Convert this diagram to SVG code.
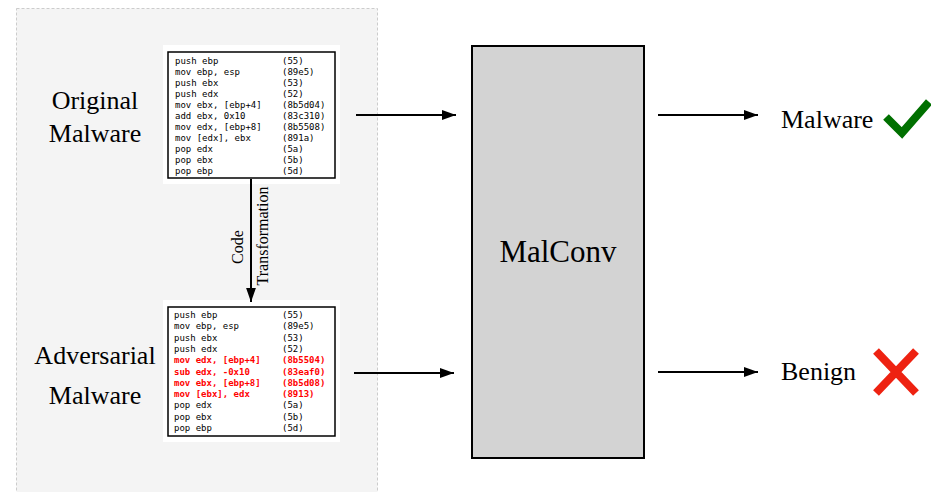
<svg xmlns="http://www.w3.org/2000/svg" width="931" height="492" viewBox="0 0 931 492">
<style>
.lbl{font-family:"Liberation Serif","Times New Roman",serif;fill:#000}
.code{font-family:"DejaVu Sans Mono","Liberation Mono",monospace;font-size:9px;fill:#000}
.red{fill:#ff0000;font-weight:bold}
.conn{stroke:#000;stroke-width:2;fill:none}
</style>
<defs>
<marker id="ah2" viewBox="0 0 10 10" refX="10" refY="5" markerWidth="14" markerHeight="14" orient="auto" markerUnits="userSpaceOnUse">
<path d="M0,1.5 L10,5 L0,8.5 z" fill="#000"/>
</marker>
</defs>
<rect x="16.5" y="8.5" width="361" height="490" fill="#f4f4f4" stroke="#cccccc" stroke-dasharray="3,2"/>

<g id="original-label">
<text class="lbl" x="95" y="109" font-size="26" text-anchor="middle">Original</text>
<text class="lbl" x="95" y="142" font-size="26" text-anchor="middle">Malware</text>
</g>
<g id="adversarial-label">
<text class="lbl" x="95" y="364" font-size="26" text-anchor="middle">Adversarial</text>
<text class="lbl" x="95" y="404" font-size="26" text-anchor="middle">Malware</text>
</g>

<g id="original-code">
<rect x="163" y="45" width="177" height="139" fill="#fff"/>
<rect x="168" y="52" width="167" height="126" fill="#fff" stroke="#000" stroke-width="1.5"/>
<g class="code">
<text x="175" y="64">push ebp</text><text x="282" y="64">(55)</text>
<text x="175" y="75">mov ebp, esp</text><text x="282" y="75">(89e5)</text>
<text x="175" y="86">push ebx</text><text x="282" y="86">(53)</text>
<text x="175" y="97">push edx</text><text x="282" y="97">(52)</text>
<text x="175" y="108">mov ebx, [ebp+4]</text><text x="282" y="108">(8b5d04)</text>
<text x="175" y="119">add ebx, 0x10</text><text x="282" y="119">(83c310)</text>
<text x="175" y="130">mov edx, [ebp+8]</text><text x="282" y="130">(8b5508)</text>
<text x="175" y="141">mov [edx], ebx</text><text x="282" y="141">(891a)</text>
<text x="175" y="152">pop edx</text><text x="282" y="152">(5a)</text>
<text x="175" y="163">pop ebx</text><text x="282" y="163">(5b)</text>
<text x="175" y="174">pop ebp</text><text x="282" y="174">(5d)</text>
</g>
</g>

<g id="adversarial-code">
<rect x="163" y="300" width="177" height="142" fill="#fff"/>
<rect x="168" y="307" width="167" height="129" fill="#fff" stroke="#000" stroke-width="1.5"/>
<g class="code">
<text x="174" y="318">push ebp</text><text x="282" y="318">(55)</text>
<text x="174" y="329.3">mov ebp, esp</text><text x="282" y="329.3">(89e5)</text>
<text x="174" y="340.6">push ebx</text><text x="282" y="340.6">(53)</text>
<text x="174" y="351.9">push edx</text><text x="282" y="351.9">(52)</text>
<text class="red" x="174" y="363.2">mov edx, [ebp+4]</text><text class="red" x="282" y="363.2">(8b5504)</text>
<text class="red" x="174" y="374.5">sub edx, -0x10</text><text class="red" x="282" y="374.5">(83eaf0)</text>
<text class="red" x="174" y="385.8">mov ebx, [ebp+8]</text><text class="red" x="282" y="385.8">(8b5d08)</text>
<text class="red" x="174" y="397.1">mov [ebx], edx</text><text class="red" x="282" y="397.1">(8913)</text>
<text x="174" y="408.4">pop edx</text><text x="282" y="408.4">(5a)</text>
<text x="174" y="419.7">pop ebx</text><text x="282" y="419.7">(5b)</text>
<text x="174" y="431">pop ebp</text><text x="282" y="431">(5d)</text>
</g>
</g>

<g id="malconv">
<rect x="472" y="46" width="172" height="412" fill="#d3d3d3" stroke="#000" stroke-width="2"/>
<text class="lbl" x="558" y="262" font-size="31" text-anchor="middle">MalConv</text>
</g>

<g id="out-malware">
<text class="lbl" x="781" y="128" font-size="26">Malware</text>
<path d="M886,117 L902,133 L929,102" fill="none" stroke="#007000" stroke-width="8"/>
</g>
<g id="out-benign">
<text class="lbl" x="781" y="380" font-size="26">Benign</text>
<path d="M876,351 L916,393 M916,351 L876,393" stroke="#ee2211" stroke-width="8" fill="none"/>
</g>

<g id="connectors">
<line class="conn" x1="251" y1="179" x2="251" y2="302" marker-end="url(#ah2)"/>
<text class="lbl" font-size="16" text-anchor="middle" transform="translate(243,247) rotate(-90)">Code</text>
<text class="lbl" font-size="16" text-anchor="middle" transform="translate(268,236) rotate(-90)">Transformation</text>
<line class="conn" x1="356" y1="115" x2="456" y2="115" marker-end="url(#ah2)"/>
<line class="conn" x1="354" y1="373" x2="454" y2="373" marker-end="url(#ah2)"/>
<line class="conn" x1="658" y1="115" x2="758" y2="115" marker-end="url(#ah2)"/>
<line class="conn" x1="658" y1="372" x2="758" y2="372" marker-end="url(#ah2)"/>
</g>
</svg>
